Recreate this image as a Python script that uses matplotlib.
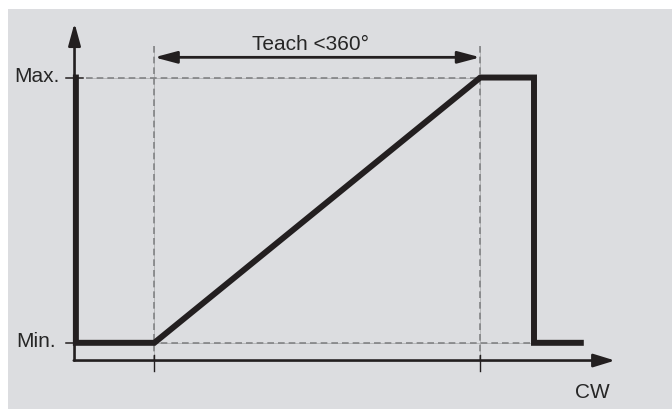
import matplotlib
matplotlib.use("Agg")
import matplotlib.pyplot as plt
from matplotlib.patches import Rectangle, FancyArrowPatch

# ---- data (x: rotation angle in degrees, teach span 0..360; y: Min=0, Max=1) ----
profile_x = [-86.6, -86.6, 0, 360, 419.3, 419.3, 471]
profile_y = [1, 0, 0, 1, 1, 0, 0]
teach_start = 0
teach_end = 360
level_min = 0
level_max = 1
level_labels = ["Min.", "Max."]
teach_label = "Teach <360°"
x_label = "CW"

# axis geometry (data units)
axis_x0 = -88.1
axis_y0 = -0.0668
axis_ytop = 1.2056
axis_xend = 508.7
dash_top = 1.119
teach_y = 1.0762

INK = "#231f20"
DASH = "#828385"
BG = "#dcdde0"
TXT = "#262626"
FONT = ["Liberation Sans", "DejaVu Sans"]

fig = plt.figure(figsize=(6.72, 4.09), dpi=100)
fig.patch.set_facecolor("white")
fig.add_artist(Rectangle((8 / 672, 0), 1 - 8 / 672, 1 - 9 / 409,
                         transform=fig.transFigure, facecolor=BG,
                         edgecolor="none", zorder=0))
ax = fig.add_axes([0, 0, 1, 1])
ax.set_facecolor("none")
ax.set_xlim(-170.4, 571.7)
ax.set_ylim(-0.2495, 1.2923)
ax.axis("off")

# faint solid guide lines + dashes
def guide(xs, ys):
    ax.plot(xs, ys, color="#b0b1b3", lw=0.6, zorder=1, solid_capstyle="butt")
    ax.plot(xs, ys, color=DASH, lw=1.2, dashes=(4.0, 2.4), zorder=2)

guide([-75.4, teach_end], [level_max, level_max])
guide([-75.4, 419.3], [level_min, level_min])
for xv in (teach_start, teach_end):
    guide([xv, xv], [dash_top, axis_y0])
    ax.plot([xv, xv], [-0.0468, -0.1071], color=INK, lw=1.0, zorder=3)

# level ticks on y axis
ax.plot([-97.5, -78.7], [level_max, level_max], color=INK, lw=1.1, zorder=3)
ax.plot([-97.5, -86.5], [level_min, level_min], color=INK, lw=1.1, zorder=3)

# axes with arrows
ax.add_patch(FancyArrowPatch((axis_x0, axis_y0), (axis_x0, axis_ytop),
                             arrowstyle="-|>,head_length=13.5,head_width=3.7",
                             mutation_scale=1, lw=1.9, color=INK,
                             shrinkA=0, shrinkB=0, zorder=4))
ax.add_patch(FancyArrowPatch((axis_x0 - 0.8, axis_y0), (axis_xend, axis_y0),
                             arrowstyle="-|>,head_length=13,head_width=4",
                             mutation_scale=1, lw=1.9, color=INK,
                             shrinkA=0, shrinkB=0, zorder=4))

# teach span arrow
ax.add_patch(FancyArrowPatch((teach_start, teach_y), (teach_end, teach_y),
                             arrowstyle="<|-|>,head_length=13.5,head_width=3.6",
                             mutation_scale=1, lw=2.0, color=INK,
                             shrinkA=0, shrinkB=0, zorder=4))

# output profile
ax.plot(profile_x, profile_y, color=INK, lw=4.3, solid_joinstyle="miter",
        solid_capstyle="projecting", zorder=5)

# texts
ax.text(-105, 0.984, level_labels[1], ha="right", va="baseline",
        fontsize=15, color=TXT, family=FONT)
ax.text(-109, -0.0155, level_labels[0], ha="right", va="baseline",
        fontsize=15, color=TXT, family=FONT)
ax.text(172.5, 1.1035, teach_label, ha="center", va="baseline",
        fontsize=15, color=TXT, family=FONT)
ax.text(464.5, -0.209, x_label, ha="left", va="baseline",
        fontsize=15, color=TXT, family=FONT)

fig.savefig("out.png", dpi=100, facecolor=fig.get_facecolor())
